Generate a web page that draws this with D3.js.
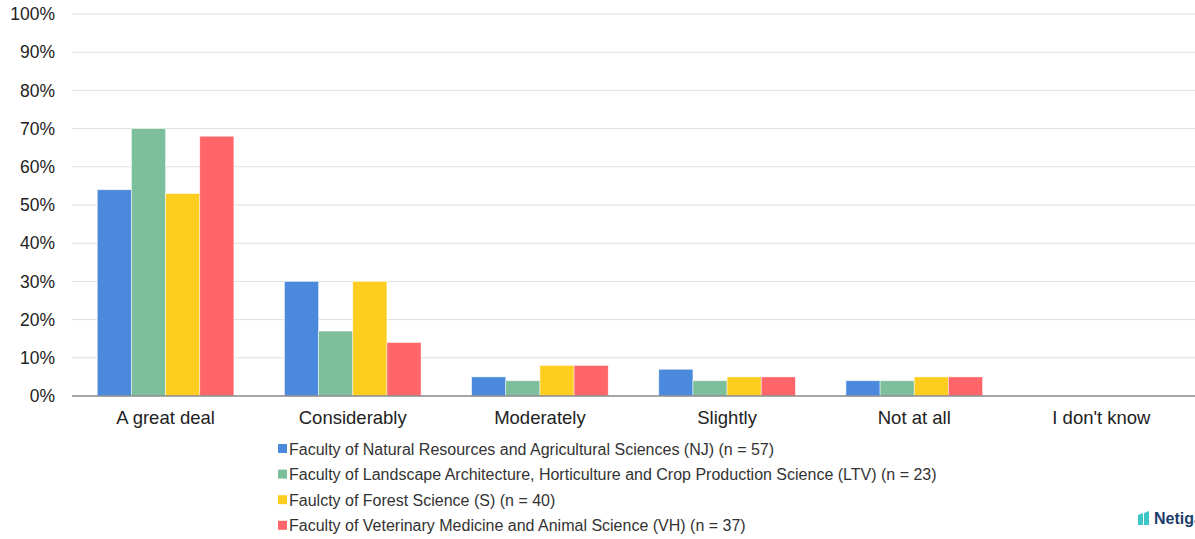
<!DOCTYPE html>
<html>
<head>
<meta charset="utf-8">
<script src="https://cdn.jsdelivr.net/npm/d3@7"></script>
<style>
body { margin: 0; background: #fff; }
svg { font-family: "Liberation Sans", Arial, sans-serif; }
</style>
</head>
<body>
<svg width="1195" height="539"></svg>
<script>
var categories = ["A great deal", "Considerably", "Moderately", "Slightly", "Not at all", "I don't know"];
var seriesNames = [
  "Faculty of Natural Resources and Agricultural Sciences (NJ) (n = 57)",
  "Faculty of Landscape Architecture, Horticulture and Crop Production Science (LTV) (n = 23)",
  "Faulcty of Forest Science (S) (n = 40)",
  "Faculty of Veterinary Medicine and Animal Science (VH) (n = 37)"
];
var njValues  = [54, 30, 5, 7, 4, 0];
var ltvValues = [70, 17, 4, 4, 4, 0];
var sValues   = [53, 30, 8, 5, 5, 0];
var vhValues  = [68, 14, 8, 5, 5, 0];
var yTicks = [0, 10, 20, 30, 40, 50, 60, 70, 80, 90, 100];
var colors = ["#4a89dc", "#7dbf9a", "#fdcd20", "#ff6569"];

var allValues = [njValues, ltvValues, sValues, vhValues];

var margins = {top: 14, left: 72, right: 0, bottom: 143};
var width = 1195 - margins.left - margins.right;
var height = 539 - margins.top - margins.bottom;

var svg = d3.select("svg");
var g = svg.append("g").attr("transform", "translate(" + margins.left + "," + margins.top + ")");

var xScale = d3.scaleBand().domain(categories).range([0, width]).paddingInner(0.27).paddingOuter(0.135);
var xInner = d3.scaleBand().domain(d3.range(seriesNames.length)).range([0, xScale.bandwidth()]);
var yScale = d3.scaleLinear().domain([0, 100]).range([height, 0]);

// gridlines
g.append("g")
  .selectAll("line")
  .data(yTicks.slice(1))
  .enter().append("line")
  .attr("x1", 0).attr("x2", width)
  .attr("y1", function(d) { return yScale(d); })
  .attr("y2", function(d) { return yScale(d); })
  .attr("stroke", "#e0e0e0").attr("stroke-width", 1);

// y labels
g.append("g")
  .selectAll("text")
  .data(yTicks)
  .enter().append("text")
  .attr("x", -17)
  .attr("y", function(d) { return yScale(d); })
  .attr("dy", "0.35em")
  .attr("text-anchor", "end")
  .attr("font-size", 17.5)
  .attr("fill", "#222")
  .text(function(d) { return d + "%"; });

// bars
allValues.forEach(function(vals, s) {
  g.append("g")
    .selectAll("rect")
    .data(vals)
    .enter().append("rect")
    .attr("x", function(d, i) { return xScale(categories[i]) + xInner(s); })
    .attr("y", function(d) { return yScale(d); })
    .attr("width", xInner.bandwidth())
    .attr("height", function(d) { return yScale(0) - yScale(d); })
    .attr("fill", colors[s])
    .attr("stroke", "rgba(255,255,255,0.6)")
    .attr("stroke-width", 0.8);
});

// baseline
g.append("line")
  .attr("x1", 0).attr("x2", width)
  .attr("y1", yScale(0)).attr("y2", yScale(0))
  .attr("stroke", "#888").attr("stroke-width", 1.3);

// x labels
g.append("g")
  .selectAll("text")
  .data(categories)
  .enter().append("text")
  .attr("x", function(d) { return xScale(d) + xScale.bandwidth() / 2; })
  .attr("y", height + 28)
  .attr("text-anchor", "middle")
  .attr("font-size", 18.5)
  .attr("fill", "#222")
  .text(function(d) { return d; });

// legend
var legend = svg.append("g").attr("transform", "translate(278,449)");
var items = legend.selectAll("g")
  .data(seriesNames)
  .enter().append("g")
  .attr("transform", function(d, i) { return "translate(0," + (i * 25.6) + ")"; });
items.append("rect")
  .attr("x", 0).attr("y", -5)
  .attr("width", 9).attr("height", 9)
  .attr("fill", function(d, i) { return colors[i]; });
items.append("text")
  .attr("x", 11)
  .attr("y", 0)
  .attr("dy", "0.35em")
  .attr("font-size", 16)
  .attr("fill", "#333")
  .text(function(d) { return d; });

// logo
var logo = svg.append("g").attr("transform", "translate(1138,511)");
logo.append("path").attr("d", "M0,4 L5,2 L5,14 L0,14 Z").attr("fill", "#3cc6c6");
logo.append("path").attr("d", "M6,2 L11,0 L11,14 L6,14 Z").attr("fill", "#3cc6c6");
logo.append("text")
  .attr("x", 16).attr("y", 13)
  .attr("font-size", 16)
  .attr("font-weight", "bold")
  .attr("fill", "#1d3d6b")
  .text("Netigate");
</script>
</body>
</html>
